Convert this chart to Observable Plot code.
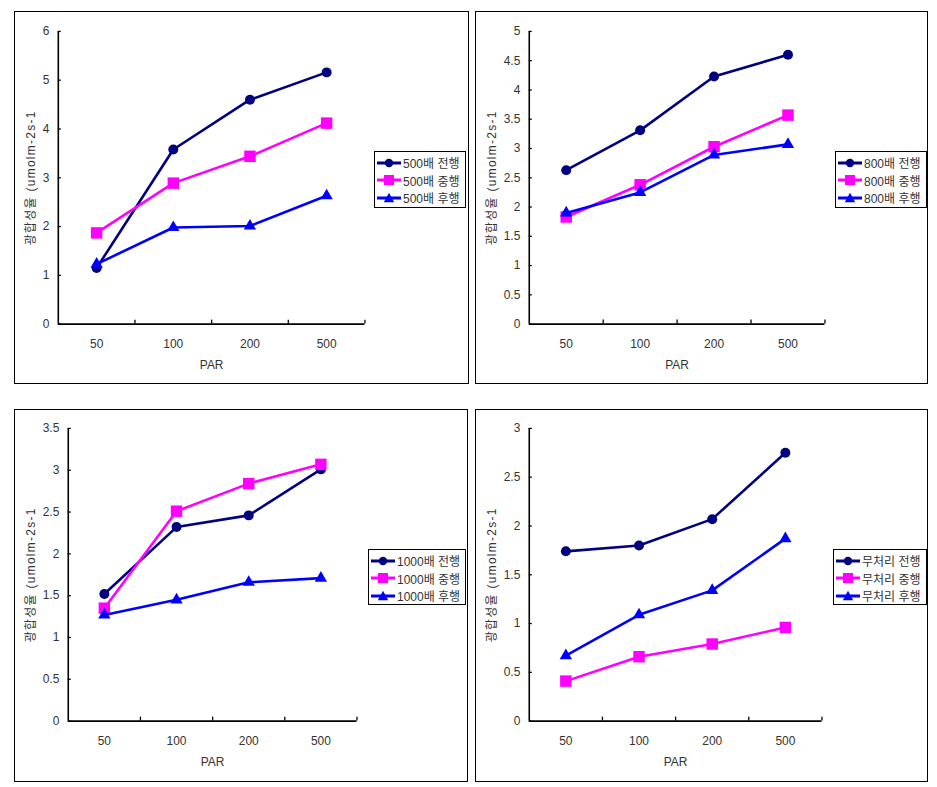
<!DOCTYPE html>
<html><head><meta charset="utf-8">
<script src="https://cdn.jsdelivr.net/npm/d3@7"></script>
<script src="https://cdn.jsdelivr.net/npm/@observablehq/plot@0.6"></script>
<style>
body{margin:0;background:#fff;font-family:"Liberation Sans","Noto Sans CJK KR",sans-serif;}
#root{position:relative;width:937px;height:787px;background:#fff;}
.panel{position:absolute;border:1px solid #000;box-sizing:border-box;background:#fff;}
.panel > svg{position:absolute;left:-1px;top:-1px;}
.panel g[aria-label="y-axis label"] text{letter-spacing:1.3px;}
.legend{position:absolute;border:1px solid #000;background:#fff;font-size:12px;color:#333;box-sizing:border-box;padding:2px 2px;}
.row{display:flex;align-items:center;height:17.5px;white-space:nowrap;}
.row svg{position:static;margin-right:2px;}
</style></head><body><div id="root"></div>
<script>
// ---- data ----
const categories = ["50", "100", "200", "500"];
const seriesNames = ["전행", "중행", "후행"];
const colors = ["#000080", "#FF00FF", "#0000FF"];
const symbols = ["circle", "square", "triangle"];
const yLabel = "광합성율 (umolm-2s-1";
const xLabel = "PAR";
const treatments = ["500배", "800배", "1000배", "무처리"];

const t500_jeon = [1.15, 3.58, 4.60, 5.16];
const t500_jung = [1.87, 2.89, 3.44, 4.12];
const t500_hu   = [1.23, 1.98, 2.01, 2.63];

const t800_jeon = [2.63, 3.31, 4.23, 4.60];
const t800_jung = [1.83, 2.38, 3.03, 3.57];
const t800_hu   = [1.90, 2.25, 2.89, 3.07];

const t1000_jeon = [1.52, 2.32, 2.46, 3.01];
const t1000_jung = [1.35, 2.51, 2.84, 3.07];
const t1000_hu   = [1.27, 1.45, 1.66, 1.71];

const tctrl_jeon = [1.74, 1.80, 2.07, 2.75];
const tctrl_jung = [0.41, 0.66, 0.79, 0.96];
const tctrl_hu   = [0.67, 1.09, 1.34, 1.87];

const yMaxes = [6, 5, 3.5, 3];
const ySteps = [1, 0.5, 0.5, 0.5];

// ---- layout ----
const panels = [
  {series:[t500_jeon,t500_jung,t500_hu], box:[14,11,455,373], m:[44,20,103,59], legend:[359,139,92,57]},
  {series:[t800_jeon,t800_jung,t800_hu], box:[475,11,453,373], m:[54,20,102,59], legend:[359,139,92,57]},
  {series:[t1000_jeon,t1000_jung,t1000_hu], box:[14,409,454,373], m:[54,19,110,60], legend:[353,139,98,56]},
  {series:[tctrl_jeon,tctrl_jung,tctrl_hu], box:[475,409,453,373], m:[54,19,105,60], legend:[357,139,94,56]}
];
const radii = [5, 6.5, 4.6];

const root = document.getElementById("root");

function swatch(s){
  const c = colors[s];
  let shape;
  if (s === 0) shape = `<circle cx="12" cy="6" r="4.2" fill="${c}"/>`;
  else if (s === 1) shape = `<rect x="7" y="1" width="10" height="10" fill="${c}"/>`;
  else shape = `<path d="M12,0.8 L17.2,10.2 L6.8,10.2 Z" fill="${c}"/>`;
  return `<svg width="24" height="12"><line x1="0" y1="6" x2="24" y2="6" stroke="${c}" stroke-width="3"/>${shape}</svg>`;
}

const fmt = d => String(+d.toFixed(1));

panels.forEach((cfg, p) => {
  const div = document.createElement("div");
  div.className = "panel";
  Object.assign(div.style, {left: cfg.box[0]+"px", top: cfg.box[1]+"px", width: cfg.box[2]+"px", height: cfg.box[3]+"px"});
  const [mL, mT, mR, mB] = cfg.m;
  const yt = d3.range(0, yMaxes[p] + 1e-9, ySteps[p]);
  const marks = [
    Plot.axisY({ticks: yt, tickSize: 0, tickPadding: 9, tickFormat: fmt, label: yLabel, labelAnchor: "center", labelArrow: "none", labelOffset: mL - 12}),
    Plot.axisY({ticks: yt, tickSize: 3, dx: 3, tickFormat: () => "", label: null, strokeWidth: 1.3, stroke: "#000"}),
    Plot.axisX({ticks: [0,1,2,3], tickSize: 0, tickPadding: 15, tickFormat: i => categories[i], label: xLabel, labelAnchor: "center", labelArrow: "none", labelOffset: 45}),
    Plot.axisX({ticks: [0.5,1.5,2.5,3.5], tickSize: 4, dy: -4, tickFormat: () => "", label: null, strokeWidth: 1.3, stroke: "#000"}),
    Plot.ruleY([0], {stroke: "#000", strokeWidth: 1.6}),
    Plot.ruleX([-0.5], {stroke: "#000", strokeWidth: 1.6})
  ];
  cfg.series.forEach((vals, s) => {
    const d = vals.map((v, i) => ({i, v}));
    marks.push(Plot.line(d, {x: "i", y: "v", stroke: colors[s], strokeWidth: 2.6}));
    marks.push(Plot.dot(d, {x: "i", y: "v", symbol: symbols[s], r: radii[s], fill: colors[s], stroke: "none"}));
  });
  const chart = Plot.plot({
    width: cfg.box[2], height: cfg.box[3],
    marginLeft: mL, marginTop: mT, marginRight: mR, marginBottom: mB,
    x: {type: "linear", domain: [-0.5, 3.5]},
    y: {type: "linear", domain: [0, yMaxes[p]]},
    style: {fontSize: "12px", fontFamily: '"Liberation Sans","Noto Sans CJK KR",sans-serif', color: "#333", background: "transparent", overflow: "visible"},
    marks
  });
  div.appendChild(chart);
  const lg = document.createElement("div");
  lg.className = "legend";
  Object.assign(lg.style, {left: cfg.legend[0]+"px", top: cfg.legend[1]+"px", width: cfg.legend[2]+"px", height: cfg.legend[3]+"px"});
  lg.innerHTML = seriesNames.map((n, s) => `<div class="row">${swatch(s)}<span>${treatments[p]} ${n}</span></div>`).join("");
  div.appendChild(lg);
  root.appendChild(div);
});
</script>
</body></html>
